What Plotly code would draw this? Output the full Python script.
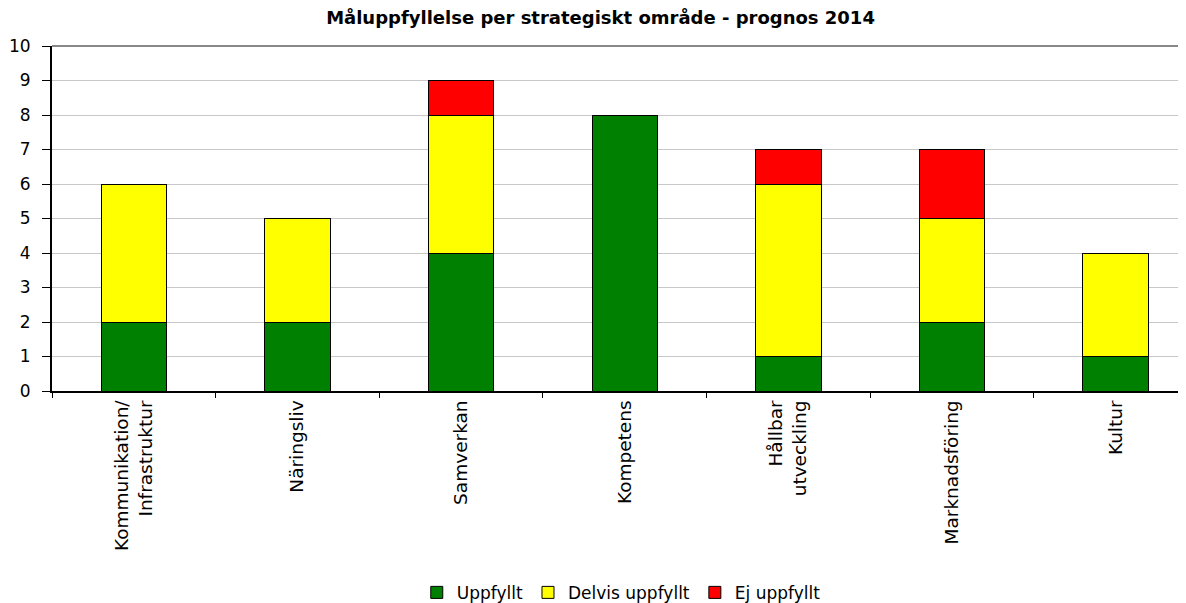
import plotly.graph_objects as go

categories = [
    "Kommunikation/<br>Infrastruktur",
    "Näringsliv",
    "Samverkan",
    "Kompetens",
    "Hållbar<br>utveckling",
    "Marknadsföring",
    "Kultur",
]
uppfyllt = [2, 2, 4, 8, 1, 2, 1]
delvis = [4, 3, 4, None, 5, 3, 3]
ej = [None, None, 1, None, 1, 2, None]

FONT = "DejaVu Sans, Verdana, sans-serif"

series = [
    ("Uppfyllt", uppfyllt, "#008000"),
    ("Delvis uppfyllt", delvis, "#ffff00"),
    ("Ej uppfyllt", ej, "#ff0000"),
]

fig = go.Figure()
for name, vals, color in series:
    fig.add_trace(
        go.Bar(
            x=categories,
            y=vals,
            name=name,
            width=0.4,
            marker=dict(color=color, line=dict(color="#000000", width=1)),
        )
    )

# page body has an 8px margin, so the figure is a bit smaller than the window
fig.update_layout(
    barmode="stack",
    width=1178,
    height=595,
    margin=dict(l=44, r=0, t=38, b=212, autoexpand=False),
    paper_bgcolor="#ffffff",
    plot_bgcolor="#ffffff",
    font=dict(family=FONT, color="#000000", size=16),
    title=dict(
        text="<b>Måluppfyllelse per strategiskt område - prognos 2014</b>",
        x=0.503,
        xref="container",
        xanchor="center",
        y=0.983,
        yref="container",
        yanchor="middle",
        font=dict(family=FONT, size=18, color="#000000"),
    ),
    legend=dict(
        orientation="h",
        x=0.502,
        xanchor="center",
        y=-0.585,
        yanchor="middle",
        font=dict(family=FONT, size=17),
        itemwidth=30,
        traceorder="normal",
    ),
    shapes=[
        dict(
            type="line",
            xref="paper",
            yref="paper",
            x0=0,
            x1=1,
            y0=1,
            y1=1,
            line=dict(color="#888888", width=2),
        )
    ],
)
fig.update_xaxes(
    range=[-0.5, 6.43],
    showline=True,
    linecolor="#000000",
    linewidth=2,
    ticks="outside",
    tickson="boundaries",
    ticklen=5,
    tickcolor="#000000",
    tickangle=-90,
    tickfont=dict(family=FONT, size=18.5),
    showgrid=False,
    automargin=False,
)
fig.update_yaxes(
    range=[0, 10],
    dtick=1,
    showline=True,
    linecolor="#000000",
    linewidth=2,
    ticks="outside",
    ticklen=8,
    tickcolor="#000000",
    ticklabelstandoff=8,
    gridcolor="#c8c8c8",
    gridwidth=1,
    tickfont=dict(family=FONT, size=17),
    zeroline=False,
    automargin=False,
)

fig.write_html("out.html")
